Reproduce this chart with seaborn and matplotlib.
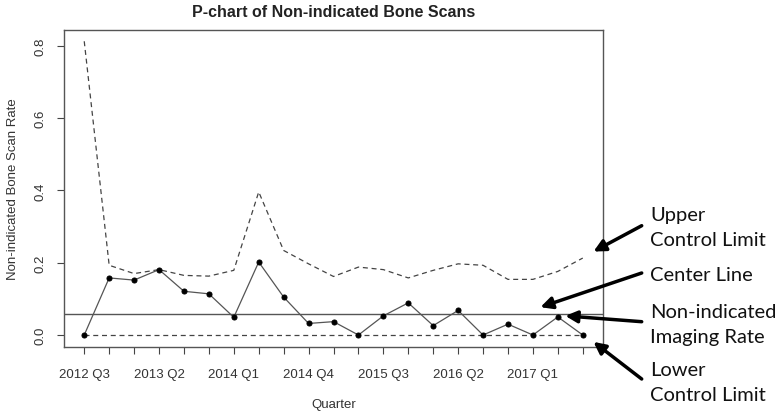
import numpy as np
import pandas as pd
import matplotlib
matplotlib.use("Agg")
import matplotlib.pyplot as plt
import seaborn as sns

# ===============================
# Data
# ===============================

quarters = ["2012 Q3", "2012 Q4", "2013 Q1", "2013 Q2", "2013 Q3", "2013 Q4",
            "2014 Q1", "2014 Q2", "2014 Q3", "2014 Q4", "2015 Q1", "2015 Q2",
            "2015 Q3", "2015 Q4", "2016 Q1", "2016 Q2", "2016 Q3", "2016 Q4",
            "2017 Q1", "2017 Q2", "2017 Q3"]

rate = [0.0, 0.158, 0.152, 0.181, 0.121, 0.114, 0.049, 0.202, 0.105, 0.032,
        0.037, 0.0, 0.053, 0.089, 0.026, 0.068, 0.0, 0.030, 0.0, 0.050, 0.0]

ucl = [0.813, 0.193, 0.170, 0.181, 0.165, 0.163, 0.179, 0.396, 0.234, 0.197,
       0.162, 0.188, 0.181, 0.158, 0.179, 0.197, 0.193, 0.154, 0.154, 0.176, 0.213]

lcl = [0.0] * len(quarters)

center = 0.057

df = pd.DataFrame({"idx": np.arange(len(quarters)), "quarter": quarters,
                   "rate": rate, "ucl": ucl, "lcl": lcl})

# ===============================
# Plot
# ===============================

sns.set_style("ticks")
plt.rcParams["font.family"] = ["Liberation Sans", "DejaVu Sans"]

W, H = 778, 414
fig = plt.figure(figsize=(W / 100, H / 100), dpi=100)
ax = fig.add_axes([64.3 / W, 1 - 348.3 / H, (602.7 - 64.3) / W, (348.3 - 30.7) / H])

sns.lineplot(data=df, x="idx", y="ucl", ax=ax, color="#444444", lw=0.9,
             linestyle=(0, (4, 3)))
sns.lineplot(data=df, x="idx", y="lcl", ax=ax, color="#444444", lw=0.9,
             linestyle=(0, (4, 3)))
ax.axhline(center, color="#555555", lw=1.0)
sns.lineplot(data=df, x="idx", y="rate", ax=ax, color="#555555", lw=0.9,
             marker="o", markersize=3.6, markerfacecolor="black",
             markeredgecolor="black")

ax.set_xlim(-0.8, 20.8)
ax.set_ylim(-0.034, 0.845)

ax.set_xticks(df["idx"])
ax.set_xticklabels([q if i % 3 == 0 else "" for i, q in enumerate(quarters)],
                   fontsize=9.5, color="#333333")
ax.set_yticks([0.0, 0.2, 0.4, 0.6, 0.8])
ax.set_yticklabels(["0.0", "0.2", "0.4", "0.6", "0.8"], rotation=90,
                   va="center", fontsize=9.5, color="#333333")
ax.tick_params(axis="x", length=5, width=0.8, color="#444444", pad=10)
ax.tick_params(axis="y", length=5, width=0.8, color="#444444", pad=8)

for s in ax.spines.values():
    s.set_visible(True)
    s.set_color("#555555")
    s.set_linewidth(1.0)

ax.set_xlabel("Quarter", fontsize=9.5, color="#333333", labelpad=13)
ax.set_ylabel("Non-indicated Bone Scan Rate", fontsize=9.5, color="#333333",
              labelpad=11)
ax.set_title("P-chart of Non-indicated Bone Scans", fontsize=11.5,
             fontweight="bold", color="#222222", pad=10)

# ===============================
# Side annotations
# ===============================

labels = [("Upper\nControl Limit", 228, (20.43, 0.231), 226.7),
          ("Center Line", 276, (18.3, 0.077), 274),
          ("Non-indicated\nImaging Rate", 325, (19.3, 0.053), 322.7),
          ("Lower\nControl Limit", 383, (20.43, -0.019), 380)]

for txt, ty, head, tail_y in labels:
    fig.text(650 / W, 1 - ty / H, txt, fontsize=14.5, va="center", ha="left",
             family=["Lato", "DejaVu Sans"], color="#111111", linespacing=1.6)
    ax.annotate("", xy=head, xycoords="data",
                xytext=(641.7 / W, 1 - tail_y / H), textcoords="figure fraction",
                annotation_clip=False,
                arrowprops=dict(arrowstyle="-|>,head_length=0.7,head_width=0.35",
                                color="black", lw=2.5, shrinkA=0, shrinkB=0))

fig.savefig("out.png", dpi=100)
